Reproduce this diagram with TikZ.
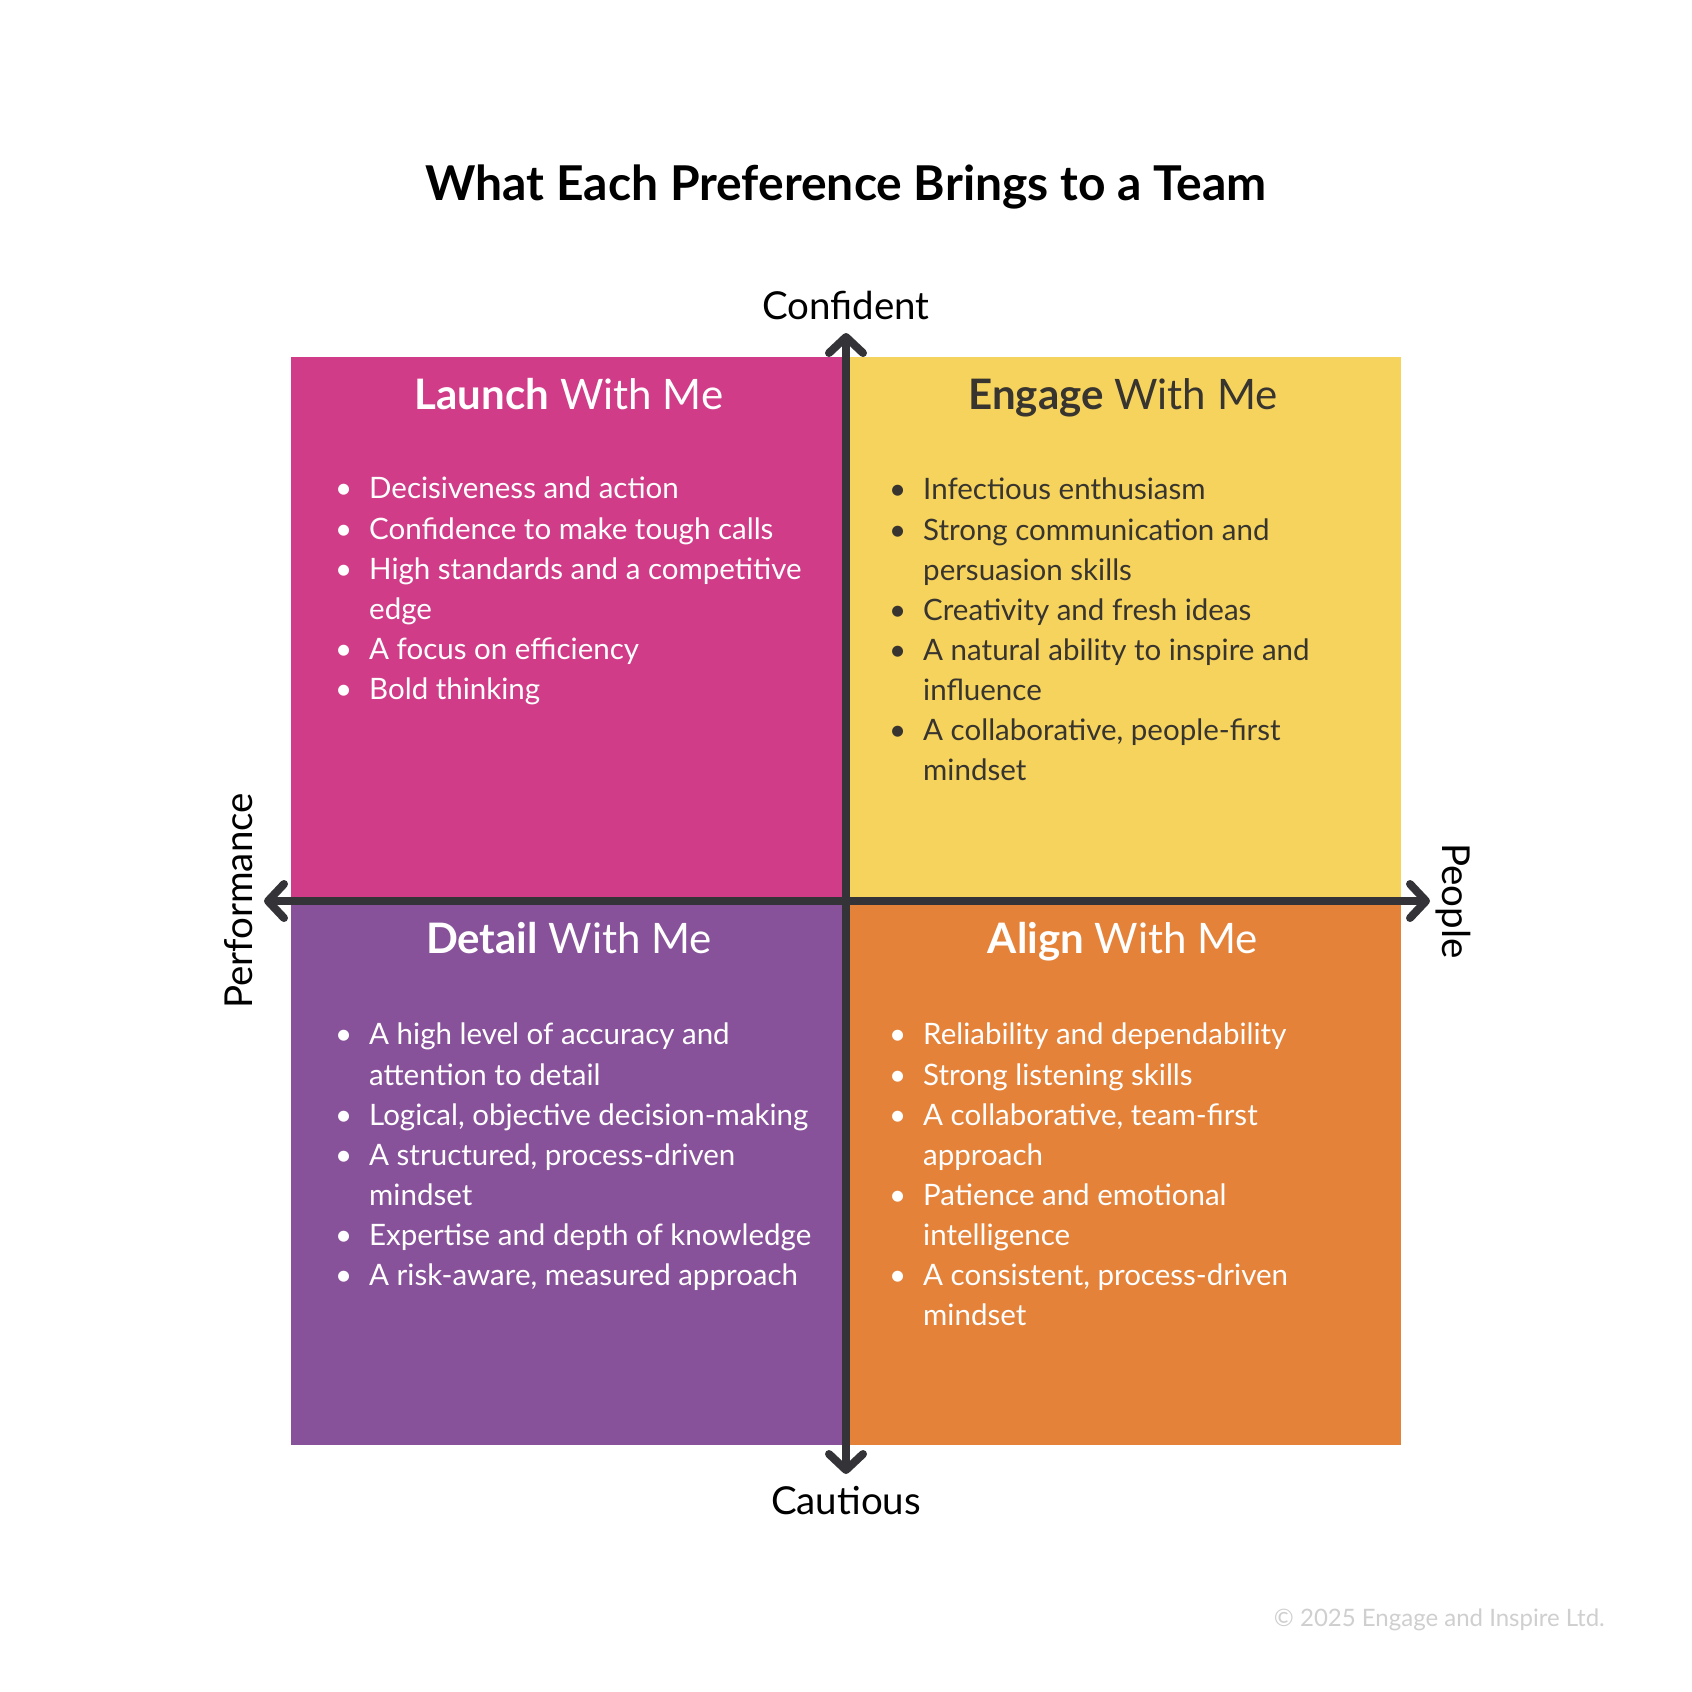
\documentclass[tikz,border=0pt]{standalone}
\usepackage{fontspec}
\setmainfont{Lato}
\usetikzlibrary{arrows.meta}
\definecolor{pinkq}{HTML}{D03C88}
\definecolor{yellowq}{HTML}{F5D35C}
\definecolor{purpleq}{HTML}{88529A}
\definecolor{orangeq}{HTML}{E4823A}
\definecolor{axisc}{HTML}{343438}
\definecolor{darktxt}{HTML}{38342F}
\definecolor{copyc}{HTML}{CFCFCF}
\newcommand{\blt}{\makebox[34pt][l]{\textbullet}}
\newcommand{\ind}{\hspace*{34pt}}
\begin{document}
\begin{tikzpicture}[x=1pt,y=-1pt,
  quad/.style={inner sep=0pt, outer sep=0pt, minimum width=555pt, minimum height=544pt},
  head/.style={anchor=base, inner sep=0pt, font=\fontsize{42}{50}\selectfont},
  lst/.style={anchor=north west, inner sep=0pt, align=left, font=\fontsize{29.5}{40.1}\selectfont},
  axlabel/.style={anchor=base, inner sep=0pt, font=\fontsize{38.5}{44}\selectfont, text=black},
  axarrow/.style={draw=axisc, line width=8pt, line cap=round,
    arrows={Straight Barb[length=16pt, width=34pt, round]-Straight Barb[length=16pt, width=34pt, round]}}
]
\useasboundingbox[fill=white] (0,0) rectangle (1692,1692);

% title
\node[anchor=base, inner sep=0pt, font=\fontsize{48}{56}\selectfont\bfseries] (title) at (846,200) {What Each Preference Brings to a Team};

% quadrants
\node[quad, fill=pinkq, anchor=south east] (q1) at (846,901) {};
\node[quad, fill=yellowq, anchor=south west] (q2) at (846,901) {};
\node[quad, fill=purpleq, anchor=north east] (q3) at (846,901) {};
\node[quad, fill=orangeq, anchor=north west] (q4) at (846,901) {};

% headings
\node[head, text=white] (h1) at (569,409) {\textbf{Launch} With Me};
\node[head, text=darktxt] (h2) at (1123,409) {\textbf{Engage} With Me};
\node[head, text=white] (h3) at (569,953) {\textbf{Detail} With Me};
\node[head, text=white] (h4) at (1123,953) {\textbf{Align} With Me};

% lists
\node[lst, text=white] (l1) at (335,477) {%
\blt Decisiveness and action\\
\blt Confidence to make tough calls\\
\blt High standards and a competitive\\
\ind edge\\
\blt A focus on efficiency\\
\blt Bold thinking};
\node[lst, text=darktxt] (l2) at (889,478) {%
\blt Infectious enthusiasm\\
\blt Strong communication and\\
\ind persuasion skills\\
\blt Creativity and fresh ideas\\
\blt A natural ability to inspire and\\
\ind influence\\
\blt A collaborative, people-first\\
\ind mindset};
\node[lst, text=white] (l3) at (335,1023) {%
\blt A high level of accuracy and\\
\ind attention to detail\\
\blt Logical, objective decision-making\\
\blt A structured, process-driven\\
\ind mindset\\
\blt Expertise and depth of knowledge\\
\blt A risk-aware, measured approach};
\node[lst, text=white] (l4) at (889,1023) {%
\blt Reliability and dependability\\
\blt Strong listening skills\\
\blt A collaborative, team-first\\
\ind approach\\
\blt Patience and emotional\\
\ind intelligence\\
\blt A consistent, process-driven\\
\ind mindset};

% axes
\coordinate (atop) at (846,333);
\coordinate (abot) at (846,1474);
\coordinate (aleft) at (264,901);
\coordinate (aright) at (1430,901);
\draw[axarrow] (abot) -- (atop);
\draw[axarrow] (aleft) -- (aright);

% axis labels
\node[axlabel] (conf) at (846,319) {Confident};
\node[axlabel] (caut) at (846,1514) {Cautious};
\node[axlabel, rotate=90] (perf) at (252,901) {Performance};
\node[axlabel, rotate=-90] (peop) at (1442,901) {People};

% copyright
\node[anchor=base east, inner sep=0pt, font=\fontsize{24}{28}\selectfont, text=copyc] (copy) at (1605,1626) {© 2025 Engage and Inspire Ltd.};
\end{tikzpicture}
\end{document}
